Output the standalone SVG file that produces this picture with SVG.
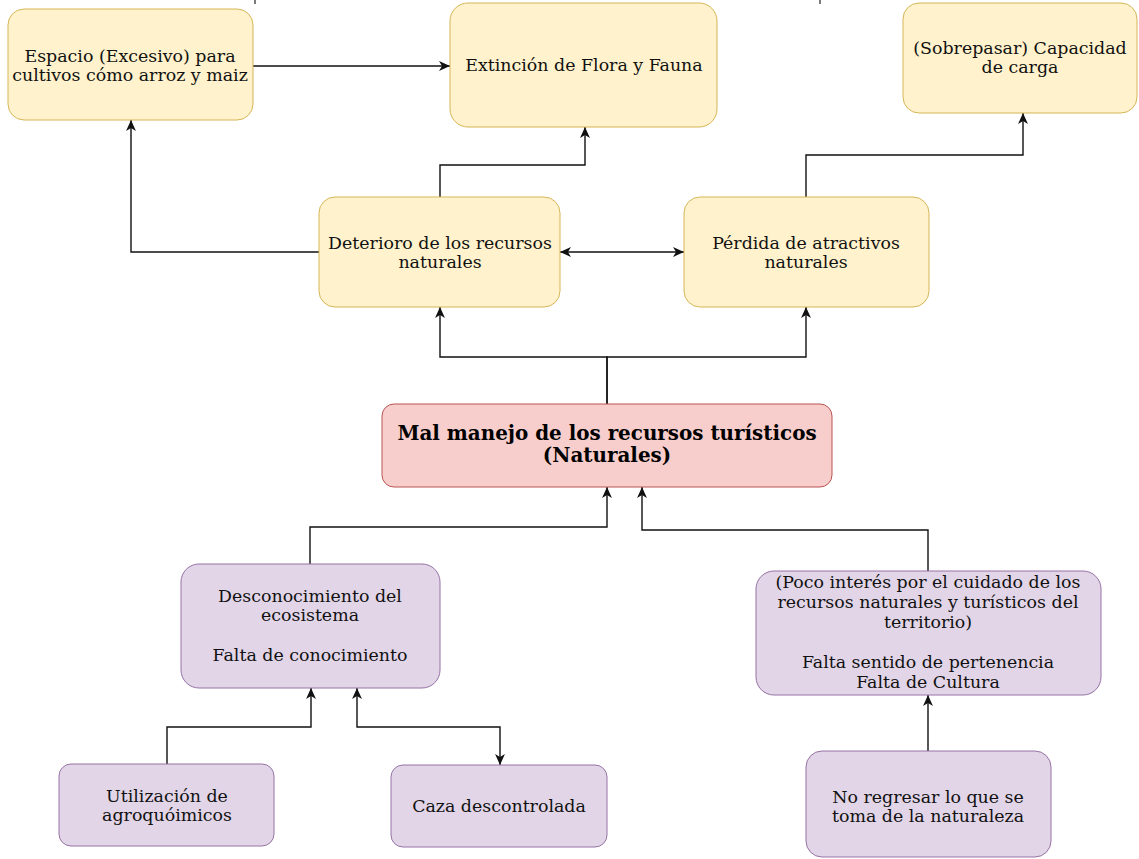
<svg xmlns="http://www.w3.org/2000/svg" width="1139" height="859" viewBox="0 0 1139 859">
<defs>
<style>
.y{fill:#fff2cc;stroke:#d6b656;stroke-width:1}
.r{fill:#f8cecc;stroke:#b85450;stroke-width:1}
.p{fill:#e1d5e7;stroke:#9673a6;stroke-width:1}
text{font-family:"DejaVu Serif","Liberation Serif",serif;font-size:17.4px;fill:#111;text-anchor:middle}
.b{font-weight:bold;font-size:19.9px;fill:#000}
.c{fill:none;stroke:#111;stroke-width:1.4}
</style>
<marker id="a" viewBox="0 0 10 10" refX="10" refY="5" markerWidth="11" markerHeight="11" markerUnits="userSpaceOnUse" orient="auto-start-reverse">
<path d="M0,0.5 L10,5 L0,9.5 L2.8,5 Z" fill="#111"/>
</marker>
</defs>
<rect width="1139" height="859" fill="#fff"/>
<g id="marks" stroke="#222" stroke-width="1.2">
<line x1="255" y1="0" x2="255" y2="4"/>
<line x1="820" y1="0" x2="820" y2="4"/>
</g>
<g id="connectors">
<path class="c" d="M253,66 H450" marker-end="url(#a)"/>
<path class="c" d="M440,197 V165 H585 V127" marker-end="url(#a)"/>
<path class="c" d="M319,252 H131 V120" marker-end="url(#a)"/>
<path class="c" d="M560,252 H684" marker-start="url(#a)" marker-end="url(#a)"/>
<path class="c" d="M806,197 V155 H1023 V113" marker-end="url(#a)"/>
<path class="c" d="M607,404 V357 H440 V307" marker-end="url(#a)"/>
<path class="c" d="M607,404 V357 H806 V307" marker-end="url(#a)"/>
<path class="c" d="M310,564 V527 H607 V487" marker-end="url(#a)"/>
<path class="c" d="M928,571 V530 H642 V487" marker-end="url(#a)"/>
<path class="c" d="M167,764 V727 H311 V688" marker-end="url(#a)"/>
<path class="c" d="M357,688 V727 H500 V765" marker-start="url(#a)" marker-end="url(#a)"/>
<path class="c" d="M928,751 V695" marker-end="url(#a)"/>
</g>
<g id="n-espacio">
<rect class="y" x="8" y="9" width="245" height="111" rx="16"/>
<text x="130" y="62">Espacio (Excesivo) para</text>
<text x="130" y="81">cultivos cómo arroz y maiz</text>
</g>
<g id="n-extincion">
<rect class="y" x="450" y="3" width="267" height="124" rx="18"/>
<text x="584" y="71">Extinción de Flora y Fauna</text>
</g>
<g id="n-capacidad">
<rect class="y" x="903" y="3" width="234" height="110" rx="16"/>
<text x="1020" y="54">(Sobrepasar) Capacidad</text>
<text x="1020" y="73">de carga</text>
</g>
<g id="n-deterioro">
<rect class="y" x="319" y="197" width="241" height="110" rx="16"/>
<text x="440" y="249">Deterioro de los recursos</text>
<text x="440" y="268">naturales</text>
</g>
<g id="n-perdida">
<rect class="y" x="684" y="197" width="245" height="110" rx="16"/>
<text x="806" y="249">Pérdida de atractivos</text>
<text x="806" y="268">naturales</text>
</g>
<g id="n-malmanejo">
<rect class="r" x="382" y="404" width="450" height="83" rx="12"/>
<text class="b" x="607" y="440">Mal manejo de los recursos turísticos</text>
<text class="b" x="607" y="462">(Naturales)</text>
</g>
<g id="n-desconocimiento">
<rect class="p" x="181" y="564" width="259" height="124" rx="18"/>
<text x="310" y="602">Desconocimiento del</text>
<text x="310" y="621">ecosistema</text>
<text x="310" y="661">Falta de conocimiento</text>
</g>
<g id="n-pocointeres">
<rect class="p" x="756" y="571" width="345" height="124" rx="18"/>
<text x="928" y="588">(Poco interés por el cuidado de los</text>
<text x="928" y="608">recursos naturales y turísticos del</text>
<text x="928" y="628">territorio)</text>
<text x="928" y="668">Falta sentido de pertenencia</text>
<text x="928" y="688">Falta de Cultura</text>
</g>
<g id="n-utilizacion">
<rect class="p" x="59" y="764" width="215" height="82" rx="12"/>
<text x="167" y="802">Utilización de</text>
<text x="167" y="821">agroquóimicos</text>
</g>
<g id="n-caza">
<rect class="p" x="391" y="765" width="216" height="82" rx="12"/>
<text x="499" y="812">Caza descontrolada</text>
</g>
<g id="n-noregresar">
<rect class="p" x="806" y="751" width="245" height="106" rx="16"/>
<text x="928" y="803">No regresar lo que se</text>
<text x="928" y="822">toma de la naturaleza</text>
</g>
</svg>
